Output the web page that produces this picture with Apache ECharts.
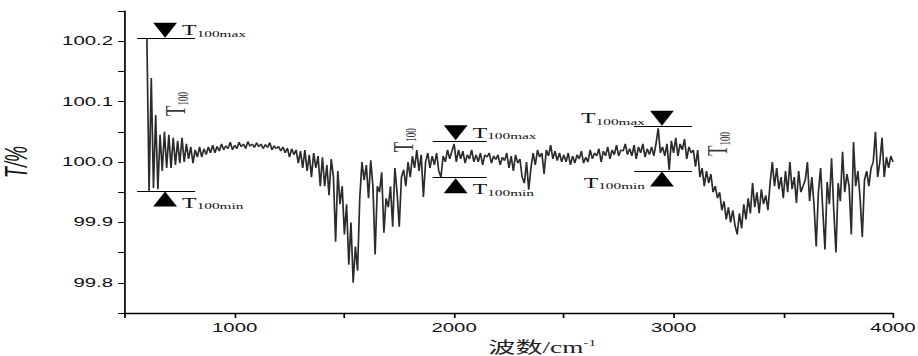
<!DOCTYPE html>
<html>
<head>
<meta charset="utf-8">
<script src="https://cdn.jsdelivr.net/npm/echarts/dist/echarts.min.js"></script>
<style>
html, body { margin: 0; padding: 0; background: #fff; overflow: hidden; }
/* the reference is stretched sideways, so draw narrow and stretch */
#chart { width: 540px; height: 356px; transform: scaleX(1.7); transform-origin: 0 0; }
</style>
</head>
<body>
<div id="chart"></div>
<script>
// 波数 (cm-1)
var wavenumber = [
  600, 610, 620, 630, 640, 650, 660, 670, 680, 690,
  700, 710, 720, 730, 740, 750, 760, 770, 780, 790,
  800, 810, 820, 830, 840, 850, 860, 870, 880, 890,
  900, 910, 920, 930, 940, 950, 960, 970, 980, 990,
  1000, 1010, 1020, 1030, 1040, 1050, 1060, 1070, 1080, 1090,
  1100, 1110, 1120, 1130, 1140, 1150, 1160, 1170, 1180, 1190,
  1200, 1210, 1220, 1230, 1240, 1250, 1260, 1270, 1280, 1290,
  1300, 1310, 1320, 1330, 1340, 1350, 1360, 1370, 1380, 1390,
  1400, 1410, 1420, 1430, 1440, 1450, 1460, 1470, 1480, 1490,
  1500, 1510, 1520, 1530, 1540, 1550, 1560, 1570, 1580, 1590,
  1600, 1610, 1620, 1630, 1640, 1650, 1660, 1670, 1680, 1690,
  1700, 1710, 1720, 1730, 1740, 1750, 1760, 1770, 1780, 1790,
  1800, 1810, 1820, 1830, 1840, 1850, 1860, 1870, 1880, 1890,
  1900, 1910, 1920, 1930, 1940, 1950, 1960, 1970, 1980, 1990,
  2000, 2010, 2020, 2030, 2040, 2050, 2060, 2070, 2080, 2090,
  2100, 2110, 2120, 2130, 2140, 2150, 2160, 2170, 2180, 2190,
  2200, 2210, 2220, 2230, 2240, 2250, 2260, 2270, 2280, 2290,
  2300, 2310, 2320, 2330, 2340, 2350, 2360, 2370, 2380, 2390,
  2400, 2410, 2420, 2430, 2440, 2450, 2460, 2470, 2480, 2490,
  2500, 2510, 2520, 2530, 2540, 2550, 2560, 2570, 2580, 2590,
  2600, 2610, 2620, 2630, 2640, 2650, 2660, 2670, 2680, 2690,
  2700, 2710, 2720, 2730, 2740, 2750, 2760, 2770, 2780, 2790,
  2800, 2810, 2820, 2830, 2840, 2850, 2860, 2870, 2880, 2890,
  2900, 2910, 2920, 2930, 2940, 2950, 2960, 2970, 2980, 2990,
  3000, 3010, 3020, 3030, 3040, 3050, 3060, 3070, 3080, 3090,
  3100, 3110, 3120, 3130, 3140, 3150, 3160, 3170, 3180, 3190,
  3200, 3210, 3220, 3230, 3240, 3250, 3260, 3270, 3280, 3290,
  3300, 3310, 3320, 3330, 3340, 3350, 3360, 3370, 3380, 3390,
  3400, 3410, 3420, 3430, 3440, 3450, 3460, 3470, 3480, 3490,
  3500, 3510, 3520, 3530, 3540, 3550, 3560, 3570, 3580, 3590,
  3600, 3610, 3620, 3630, 3640, 3650, 3660, 3670, 3680, 3690,
  3700, 3710, 3720, 3730, 3740, 3750, 3760, 3770, 3780, 3790,
  3800, 3810, 3820, 3830, 3840, 3850, 3860, 3870, 3880, 3890,
  3900, 3910, 3920, 3930, 3940, 3950, 3960, 3970, 3980, 3990,
  4000
];

// T/%
var transmittance = [
  100.205, 99.952, 100.139, 99.957, 100.078, 99.955, 100.045, 99.985, 100.05, 99.99,
  100.045, 99.99, 100.04, 99.995, 100.035, 99.998, 100.04, 100.0, 100.03, 100.005,
  100.025, 99.998, 100.02, 100.008, 100.025, 100.008, 100.022, 100.012, 100.025, 100.015,
  100.028, 100.015, 100.026, 100.018, 100.03, 100.02, 100.027, 100.022, 100.033, 100.02,
  100.028, 100.022, 100.033, 100.025, 100.03, 100.022, 100.034, 100.026, 100.03, 100.024,
  100.032, 100.025, 100.03, 100.022, 100.029, 100.024, 100.032, 100.02, 100.027, 100.022,
  100.026, 100.018, 100.025, 100.015, 100.023, 100.008, 100.022, 100.012, 100.02, 99.998,
  100.018, 99.99, 100.02, 99.985, 100.012, 99.975, 100.015, 99.99, 100.01, 99.96,
  100.008, 99.96, 99.995, 99.945, 100.005, 99.975, 99.868, 99.985, 99.93, 99.96,
  99.88, 99.93, 99.83, 99.90, 99.80, 99.86, 99.82, 99.94, 100.0, 99.97,
  99.995, 99.94, 100.003, 99.96, 99.847, 99.96, 99.95, 99.983, 99.883, 99.94,
  99.925, 99.96, 99.893, 99.99, 99.95, 99.893, 99.975, 99.987, 99.96, 100.0,
  99.975, 100.01, 99.99, 100.02, 99.985, 100.012, 99.942, 100.0, 100.015, 99.99,
  100.01, 99.995, 100.015, 99.985, 99.975, 100.01, 100.0, 100.02, 100.005, 100.018,
  100.03, 100.0, 100.02, 100.005, 100.018, 99.998, 100.012, 100.005, 100.02, 100.0,
  100.012, 100.0, 100.015, 99.995, 100.012, 100.008, 100.015, 99.998, 100.01, 100.004,
  100.012, 99.995, 100.008, 100.002, 100.015, 99.99, 100.01, 99.985, 100.012, 99.998,
  100.005, 99.975, 99.965, 100.0, 99.954, 99.99, 100.015, 99.995, 100.02, 100.008,
  100.015, 99.98, 100.02, 100.01, 100.028, 100.005, 100.018, 100.002, 100.015, 100.0,
  100.012, 100.0, 100.015, 99.995, 100.01, 99.998, 100.012, 100.005, 100.018, 99.998,
  100.008, 100.0, 100.02, 100.005, 100.015, 100.01, 100.022, 100.0, 100.018, 100.01,
  100.025, 100.005, 100.02, 100.012, 100.028, 100.01, 100.02, 100.018, 100.03, 100.012,
  100.022, 100.01, 100.028, 100.005, 100.025, 100.015, 100.03, 100.008, 100.022, 100.012,
  100.025, 100.01, 100.03, 100.056, 100.015, 100.025, 100.01, 100.03, 99.987, 100.035,
  100.015, 100.04, 100.01, 100.03, 100.02, 100.038, 100.005, 100.025, 100.015, 100.02,
  99.992, 100.02, 99.975, 99.99, 99.96, 99.985, 99.965, 99.98, 99.95, 99.96,
  99.94, 99.95, 99.92, 99.935, 99.905, 99.925, 99.90, 99.92, 99.895, 99.88,
  99.915, 99.89, 99.93, 99.905, 99.94, 99.915, 99.965, 99.925, 99.95, 99.915,
  99.955, 99.93, 99.945, 99.92, 99.965, 100.0, 99.96, 99.99, 99.955, 99.975,
  99.94, 99.985, 99.95, 100.0, 99.955, 99.975, 99.932, 99.985, 99.95, 99.96,
  99.97, 100.0, 99.935, 99.975, 99.93, 99.86, 99.95, 99.99, 99.92, 99.855,
  99.967, 99.93, 100.006, 99.92, 99.85, 99.965, 99.935, 100.017, 99.95, 99.98,
  99.96, 99.88, 100.033, 99.96, 99.985, 99.94, 99.876, 99.97, 99.985, 99.96,
  99.99, 100.0, 100.05, 99.975, 100.0, 100.04, 99.975, 100.008, 99.99, 100.01,
  100.0
];

// T100 brackets: max / min levels, line span, arrow place
var t100Max = [100.205, 100.035, 100.059];
var t100Min = [99.952, 99.974, 99.985];
var bracketFrom = [555, 1902, 2820];
var bracketTo = [820, 2148, 3084];
var arrowAt = [683, 2007, 2947];
var textSide = ['right', 'right', 'left'];

// vertical "T100" marks
var t100LabelX = [728, 1769, 3199];
var t100LabelY = [100.096, 100.036, 100.03];

var serif = '"Liberation Serif", "Times New Roman", serif';
var subRich = {
    t: { fontFamily: serif, fontSize: 14, color: '#111', lineHeight: 16 },
    s: { fontFamily: serif, fontSize: 9, color: '#111', lineHeight: 11, verticalAlign: 'bottom' }
};

var lineData = wavenumber.map(function (w, i) { return [w, transmittance[i]]; });

var bracketLines = [];
var arrows = [];
for (var i = 0; i < t100Max.length; i++) {
    bracketLines.push([{ coord: [bracketFrom[i], t100Max[i]] }, { coord: [bracketTo[i], t100Max[i]] }]);
    bracketLines.push([{ coord: [bracketFrom[i], t100Min[i]] }, { coord: [bracketTo[i], t100Min[i]] }]);
    arrows.push({
        coord: [arrowAt[i], t100Max[i]],
        symbolRotate: 180,
        symbolOffset: [0, -8],
        label: { position: textSide[i], formatter: '{t|T}{s|100max}' }
    });
    arrows.push({
        coord: [arrowAt[i], t100Min[i]],
        symbolOffset: [0, 8],
        label: { position: textSide[i], offset: [0, 4], formatter: '{t|T}{s|100min}' }
    });
}

var myChart = echarts.init(document.getElementById('chart'), null, { renderer: 'svg' });

var option = {
    animation: false,
    grid: { left: 73.5, right: 14.7, top: 11, bottom: 43, outerBoundsMode: 'none' },
    xAxis: {
        type: 'value',
        min: 500,
        max: 4000,
        interval: 500,
        name: '波数/cm{sup|-1}',
        nameLocation: 'middle',
        nameGap: 21,
        nameTextStyle: {
            fontFamily: '"Liberation Serif", "Noto Sans CJK SC", serif',
            fontSize: 16,
            color: '#222',
            padding: [0, 0, 0, 39],
            rich: {
                sup: { fontFamily: serif, fontSize: 9, color: '#222', verticalAlign: 'top', lineHeight: 18 }
            }
        },
        axisLine: { lineStyle: { color: '#000', width: 1.3 } },
        axisTick: { length: 5, lineStyle: { color: '#000', width: 1 } },
        splitLine: { show: false },
        axisLabel: {
            margin: 9,
            fontFamily: '"Liberation Sans", Arial, sans-serif',
            fontSize: 12,
            color: '#111',
            formatter: function (v) { return v % 1000 === 0 ? String(v) : ''; }
        }
    },
    yAxis: {
        type: 'value',
        min: 99.75,
        max: 100.25,
        interval: 0.05,
        name: 'T/%',
        nameLocation: 'middle',
        nameGap: 55,
        nameTextStyle: {
            fontFamily: '"Liberation Sans", Arial, sans-serif',
            fontStyle: 'italic',
            fontSize: 18,
            color: '#111'
        },
        axisLine: { show: true, lineStyle: { color: '#000', width: 1 } },
        axisTick: { show: true, length: 4, lineStyle: { color: '#000', width: 1 } },
        splitLine: { show: false },
        axisLabel: {
            margin: 7,
            fontFamily: '"Liberation Sans", Arial, sans-serif',
            fontSize: 12,
            color: '#111',
            formatter: function (v) {
                var tenth = Math.round(v * 10);
                return Math.abs(tenth - v * 10) < 1e-6 ? (tenth / 10).toFixed(1) : '';
            }
        }
    },
    series: [{
        type: 'line',
        data: lineData,
        showSymbol: false,
        silent: true,
        lineStyle: { color: '#2b2b2b', width: 1 },
        markLine: {
            silent: true,
            symbol: ['none', 'none'],
            label: { show: false },
            lineStyle: { color: '#000', width: 1, type: 'solid' },
            data: bracketLines
        },
        markPoint: {
            silent: true,
            symbol: 'triangle',
            symbolSize: [14, 15],
            itemStyle: { color: '#000' },
            label: { show: true, distance: 3, rich: subRich },
            data: arrows
        }
    }, {
        type: 'scatter',
        silent: true,
        symbolSize: 0,
        data: t100LabelX.map(function (x, i) { return [x, t100LabelY[i]]; }),
        label: {
            show: true,
            position: 'inside',
            rotate: 90,
            formatter: '{t|T}{s|100}',
            rich: {
                t: { fontFamily: serif, fontSize: 17, color: '#000', lineHeight: 18 },
                s: { fontFamily: serif, fontSize: 9, color: '#000', lineHeight: 11, verticalAlign: 'bottom' }
            }
        }
    }]
};

myChart.setOption(option);
</script>
</body>
</html>
